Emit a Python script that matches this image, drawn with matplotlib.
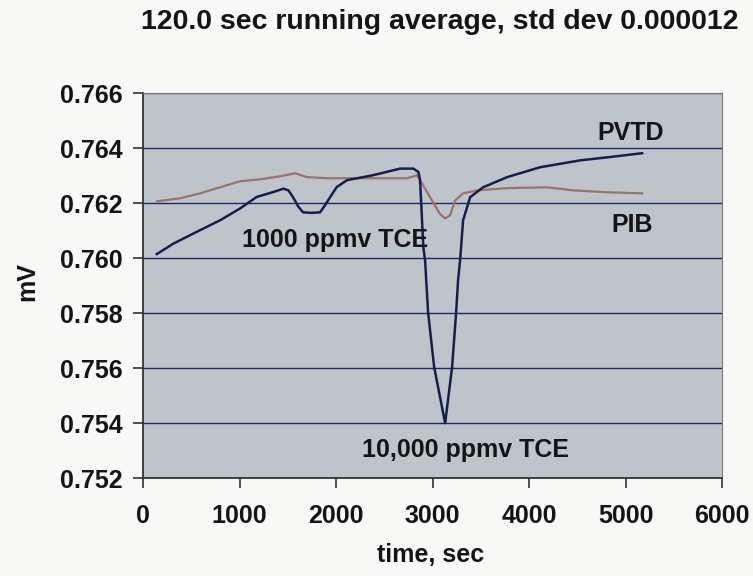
import numpy as np
import matplotlib.pyplot as plt

plt.rcParams['font.family'] = ['Liberation Sans', 'DejaVu Sans']

# values
pvtd_t = [142, 314, 556, 798, 1005, 1178, 1351, 1454, 1506, 1554, 1610, 1658,
          1748, 1834, 1886, 1938, 2007, 2114, 2383, 2663, 2801, 2853, 2870,
          2887, 2904, 2922, 2953, 3016, 3130, 3202, 3244, 3264, 3285, 3316,
          3389, 3523, 3772, 4114, 4528, 4808, 5171]
pvtd_mv = [0.76015, 0.76053, 0.76096, 0.76138, 0.76181, 0.76223, 0.76241,
           0.76253, 0.76247, 0.76222, 0.76187, 0.76167, 0.76165, 0.76167,
           0.76193, 0.76222, 0.76259, 0.76284, 0.76302, 0.76326, 0.76326,
           0.76314, 0.76284, 0.76162, 0.7604, 0.75993, 0.75804, 0.75604,
           0.75400, 0.75604, 0.75804, 0.7592, 0.75993, 0.76138, 0.76222,
           0.76258, 0.76295, 0.76331, 0.76356, 0.76367, 0.76382]

pib_t = [145, 383, 591, 798, 1005, 1212, 1420, 1575, 1699, 1907, 2176, 2456,
         2736, 2839, 2974, 3078, 3130, 3181, 3233, 3316, 3461, 3772, 4187,
         4456, 4808, 5171]
pib_mv = [0.76207, 0.76218, 0.76236, 0.76258, 0.7628, 0.76287, 0.76298,
          0.76309, 0.76295, 0.76291, 0.76291, 0.76291, 0.76291, 0.76302,
          0.76222, 0.76160, 0.76145, 0.76156, 0.7621, 0.76236, 0.76247,
          0.76255, 0.76258, 0.76247, 0.7624, 0.76236]

x_ticks = np.arange(0, 6001, 1000)
y_ticks = np.arange(0.752, 0.7661, 0.002)

fig = plt.figure(figsize=(7.53, 5.76), dpi=100, facecolor='#f8f8f6')
ax = fig.add_axes([0.19, 0.17, 0.769, 0.668])
ax.set_facecolor('#bec5ca')

ax.plot(pvtd_t, pvtd_mv, color='#15204a', lw=1.8, zorder=3)
ax.plot(pib_t, pib_mv, color='#9a7466', lw=1.6, zorder=2)

ax.set_xlim(0, 6000)
ax.set_ylim(0.752, 0.766)
ax.set_xticks(x_ticks)
ax.set_yticks(y_ticks)
ax.set_yticklabels([f"{v:.3f}" for v in y_ticks])
ax.yaxis.grid(True, color='#1c2a66', lw=1.0)
ax.set_axisbelow(True)

for lab in ax.get_xticklabels() + ax.get_yticklabels():
    lab.set_fontweight('bold')
    lab.set_fontsize(18)
    lab.set_color('#151515')
ax.tick_params(direction='out', length=7, width=1.2, color='#333333')
ax.tick_params(axis='y', pad=8)
ax.tick_params(axis='x', pad=12)

for side in ['top', 'right']:
    ax.spines[side].set_color('#777777')
for side in ['left', 'bottom']:
    ax.spines[side].set_color('#333333')
    ax.spines[side].set_linewidth(1.3)

ax.set_xlabel("time, sec", fontsize=18, fontweight='bold', color='#151515')
ax.xaxis.set_label_coords(0.497, -0.17)
ax.set_ylabel("mV", fontsize=18, fontweight='bold', color='#151515')
ax.yaxis.set_label_coords(-0.18, 0.51)
fig.text(0.584, 0.962, "120.0 sec running average, std dev 0.000012",
         ha='center', va='center', fontsize=20.5, fontweight='bold', color='#151515')

ax.text(5047, 0.76455, "PVTD", ha='center', va='center', fontsize=18, fontweight='bold', color='#151515')
ax.text(5067, 0.7612, "PIB", ha='center', va='center', fontsize=18, fontweight='bold', color='#151515')
ax.text(1990, 0.76066, "1000 ppmv TCE", ha='center', va='center', fontsize=18, fontweight='bold', color='#151515')
ax.text(3337, 0.75302, "10,000 ppmv TCE", ha='center', va='center', fontsize=18, fontweight='bold', color='#151515')

fig.savefig("out.png", dpi=100, facecolor=fig.get_facecolor())
